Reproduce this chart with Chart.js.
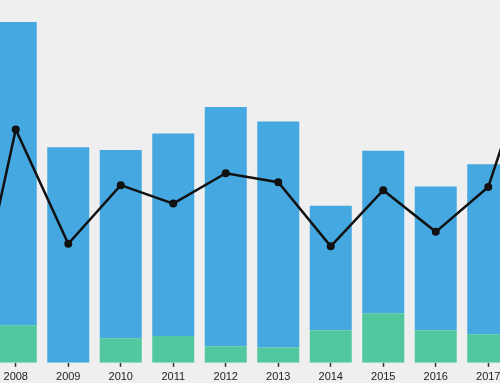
<!DOCTYPE html>
<html>
<head>
<meta charset="utf-8">
<script src="https://cdn.jsdelivr.net/npm/chart.js@4"></script>
<style>
  html, body { margin: 0; padding: 0; background: #efefef; overflow: hidden; }
  #wrap { position: relative; width: 500px; height: 383px; overflow: hidden; background: #efefef; }
  #box { position: absolute; left: -67px; top: -3px; width: 638px; height: 391px; }
</style>
</head>
<body>
<div id="wrap"><div id="box"><canvas id="c" width="638" height="391"></canvas></div></div>
<script>
const years = ['2007','2008','2009','2010','2011','2012','2013','2014','2015','2016','2017','2018'];
const greenValues = [null, 10.4, 0, 6.8, 7.4, 4.6, 4.2, 9.0, 13.7, 9.0, 7.9, null];
const blueValues  = [null, 83.8, 59.6, 52.0, 56.0, 66.1, 62.5, 34.4, 44.9, 39.7, 47.0, null];
const lineValues  = [-2.2, 4.45, 1.29, 2.91, 2.40, 3.24, 2.99, 1.22, 2.77, 1.62, 2.86, 7.23];

new Chart(document.getElementById('c'), {
  type: 'bar',
  data: {
    labels: years,
    datasets: [
      { type: 'line', data: lineValues, yAxisID: 'y1', order: 0,
        borderColor: '#111', borderWidth: 2.5, pointRadius: 4, pointBackgroundColor: '#111',
        pointBorderWidth: 0, tension: 0, clip: false },
      { data: greenValues, backgroundColor: '#52c89e', stack: 's', order: 1,
        barPercentage: 0.8, categoryPercentage: 1 },
      { data: blueValues, backgroundColor: '#45a8e0', stack: 's', order: 1,
        barPercentage: 0.8, categoryPercentage: 1 }
    ]
  },
  options: {
    responsive: false,
    animation: false,
    layout: { padding: 0 },
    plugins: { legend: { display: false }, tooltip: { enabled: false } },
    scales: {
      x: {
        stacked: true,
        border: { display: false },
        grid: { display: true, drawOnChartArea: false, offset: false, tickLength: 4, color: '#333', tickWidth: 1.5 },
        ticks: { color: '#222', font: { family: 'Liberation Sans', size: 11 }, padding: 4, maxRotation: 0 }
      },
      y: { stacked: true, display: false, min: 0, max: 100 },
      y1: { display: false, min: -2, max: 8 }
    }
  }
});
</script>
</body>
</html>
